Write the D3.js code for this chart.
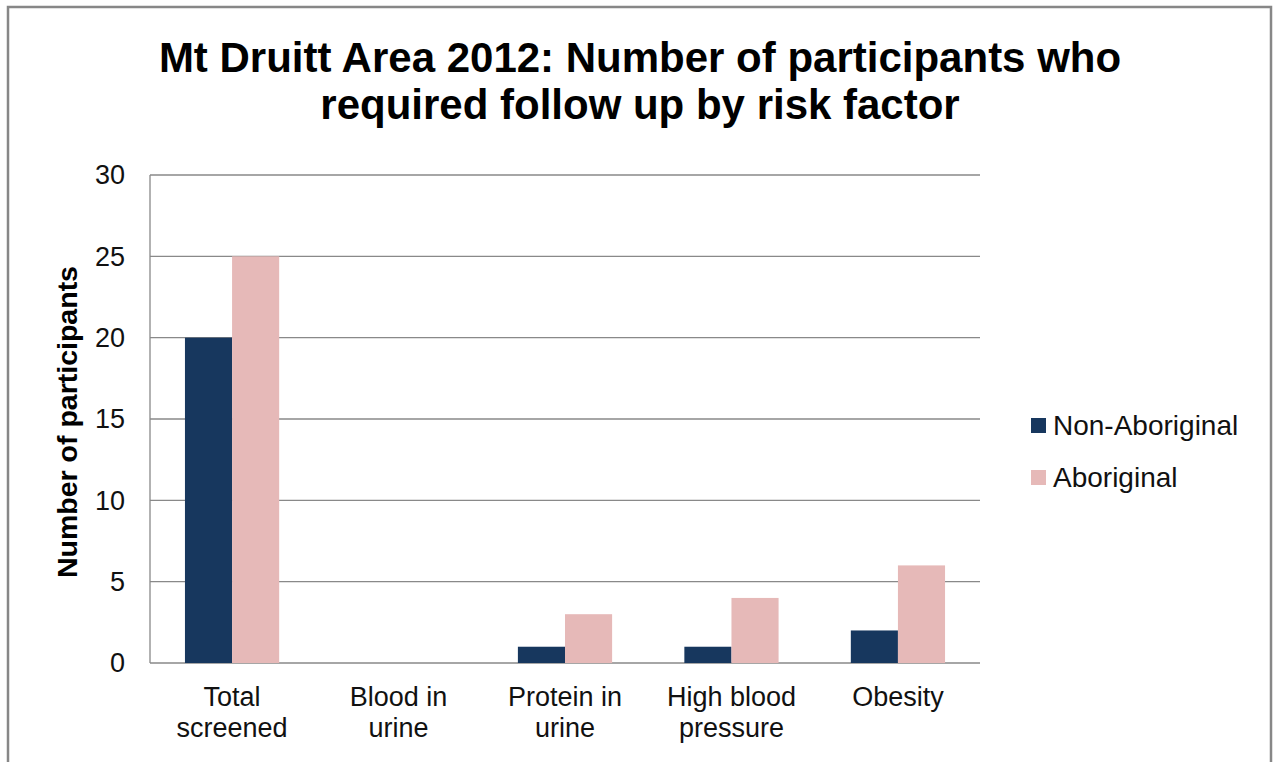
<!DOCTYPE html>
<html>
<head>
<meta charset="utf-8">
<script src="https://cdn.jsdelivr.net/npm/d3@7"></script>
<style>
  body { margin: 0; background: #fff; }
  svg { display: block; font-family: "Liberation Sans", Arial, sans-serif; }
  .tick-label { font-size: 27px; fill: #111; }
  .cat-label { font-size: 27px; fill: #111; }
</style>
</head>
<body>
<svg id="chart"></svg>
<script>
const categories = [
  ["Total", "screened"],
  ["Blood in", "urine"],
  ["Protein in", "urine"],
  ["High blood", "pressure"],
  ["Obesity"],
];
const seriesNames = ["Non-Aboriginal", "Aboriginal"];
const nonAboriginal = [20, 0, 1, 1, 2];
const aboriginal = [25, 0, 3, 4, 6];
const yTicks = [0, 5, 10, 15, 20, 25, 30];
const titleLines = [
  "Mt Druitt Area 2012: Number of participants who",
  "required follow up by risk factor",
];

const W = 1273, H = 762;
const colors = ["#17375e", "#e6b9b8"];
const plot = { left: 150, right: 980, top: 175, bottom: 663 };

const svg = d3.select("#chart").attr("width", W).attr("height", H);

// outer frame
svg.append("rect")
  .attr("x", 8).attr("y", 7)
  .attr("width", 1263).attr("height", 770)
  .attr("fill", "#fff")
  .attr("stroke", "#878787")
  .attr("stroke-width", 2.5);

// title
svg.append("text")
  .attr("text-anchor", "middle")
  .style("font-size", "42px")
  .style("font-weight", "bold")
  .selectAll("tspan")
  .data(titleLines)
  .enter()
  .append("tspan")
  .attr("x", 640)
  .attr("y", (d, i) => 72 + i * 47)
  .text((d) => d);

const keys = categories.map((d) => d.join(" "));

const x0 = d3.scaleBand()
  .domain(keys)
  .range([plot.left, plot.right])
  .paddingInner(0.434)
  .paddingOuter(0.21);

const x1 = d3.scaleBand()
  .domain(seriesNames)
  .range([0, x0.bandwidth()]);

const y = d3.scaleLinear()
  .domain([0, 30])
  .range([plot.bottom, plot.top]);

// gridlines
svg.append("g")
  .selectAll("line")
  .data(yTicks)
  .enter()
  .append("line")
  .attr("x1", plot.left)
  .attr("x2", plot.right)
  .attr("y1", (d) => y(d))
  .attr("y2", (d) => y(d))
  .attr("stroke", "#898989")
  .attr("stroke-width", 1.3);

// y axis line + labels
svg.append("line")
  .attr("x1", plot.left).attr("x2", plot.left)
  .attr("y1", plot.top).attr("y2", plot.bottom)
  .attr("stroke", "#898989")
  .attr("stroke-width", 1.3);

svg.append("g")
  .selectAll("text")
  .data(yTicks)
  .enter()
  .append("text")
  .attr("class", "tick-label")
  .attr("x", 125)
  .attr("y", (d) => y(d))
  .attr("dy", "0.35em")
  .attr("text-anchor", "end")
  .text((d) => d);

// bars
const rows = keys.map((k, i) => ({
  key: k,
  values: [nonAboriginal[i], aboriginal[i]],
}));

const groups = svg.append("g")
  .selectAll("g")
  .data(rows)
  .enter()
  .append("g")
  .attr("transform", (d) => `translate(${x0(d.key)},0)`);

groups.selectAll("rect")
  .data((d) => d.values.map((v, j) => ({ name: seriesNames[j], value: v, j })))
  .enter()
  .append("rect")
  .attr("x", (d) => x1(d.name))
  .attr("width", x1.bandwidth())
  .attr("y", (d) => y(d.value))
  .attr("height", (d) => y(0) - y(d.value))
  .attr("fill", (d) => colors[d.j]);

// category labels
svg.append("g")
  .selectAll("text")
  .data(categories)
  .enter()
  .append("text")
  .attr("class", "cat-label")
  .attr("text-anchor", "middle")
  .each(function (d, i) {
    const cx = x0(keys[i]) + x0.bandwidth() / 2;
    d3.select(this)
      .selectAll("tspan")
      .data(d)
      .enter()
      .append("tspan")
      .attr("x", cx)
      .attr("y", (t, j) => 706 + j * 31)
      .text((t) => t);
  });

// y axis title
svg.append("text")
  .attr("transform", `translate(77,${(plot.top + plot.bottom) / 2 + 3}) rotate(-90)`)
  .attr("text-anchor", "middle")
  .style("font-size", "28.5px")
  .style("font-weight", "bold")
  .text("Number of participants");

// legend
const legend = svg.append("g")
  .selectAll("g")
  .data(seriesNames)
  .enter()
  .append("g")
  .attr("transform", (d, i) => `translate(1031,${418 + i * 52})`);

legend.append("rect")
  .attr("width", 15).attr("height", 15)
  .attr("fill", (d, i) => colors[i]);

legend.append("text")
  .attr("x", 22)
  .attr("y", 17)
  .style("font-size", "28px")
  .style("fill", "#111")
  .text((d) => d);
</script>
</body>
</html>
